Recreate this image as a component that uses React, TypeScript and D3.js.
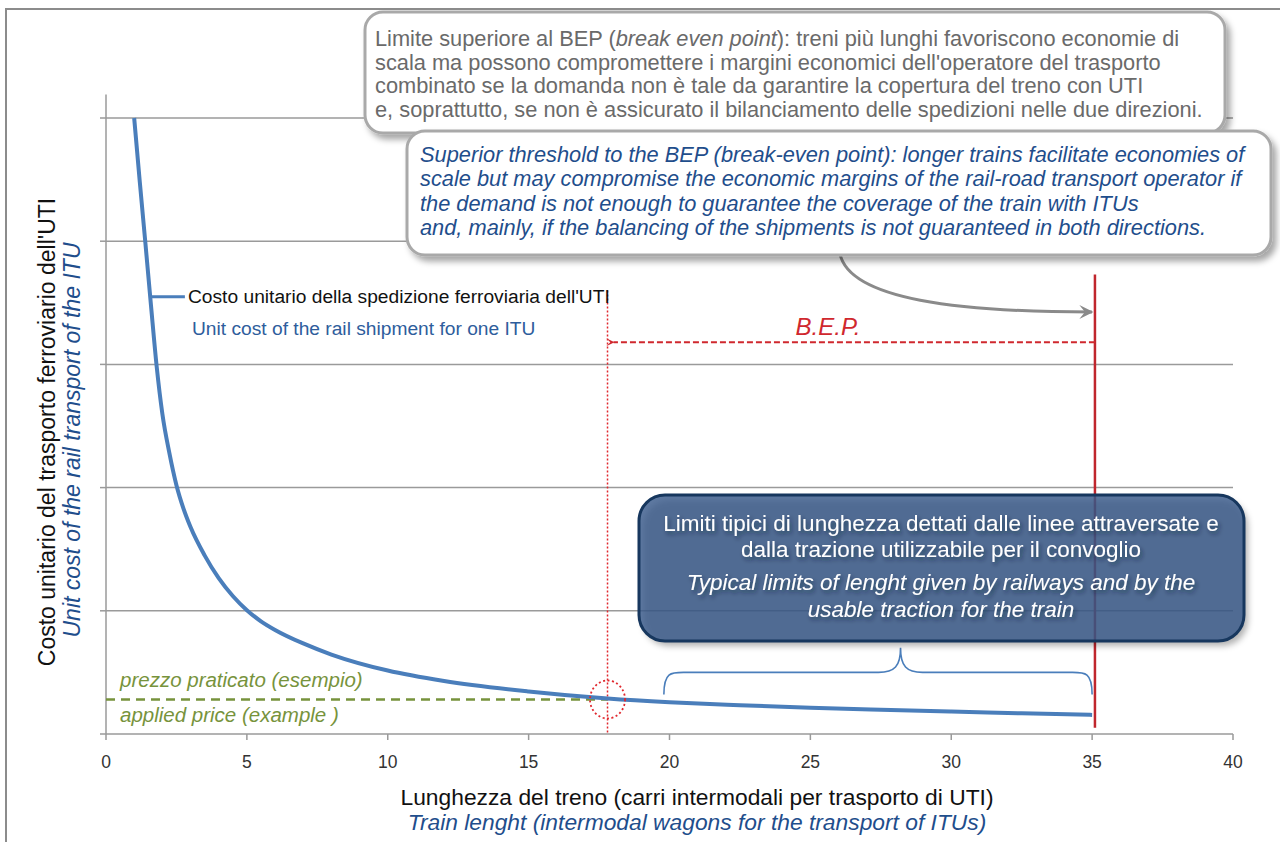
import React from 'react';
import * as d3 from 'd3';

// ---- data ----
const trainLength = [1, 1.2, 1.4, 1.6, 1.8, 2, 2.25, 2.5, 2.75, 3, 3.5, 4, 4.5, 5, 5.5, 6, 7, 8, 10, 12, 15, 17.8, 20, 22.5, 25, 27.5, 30, 32.5, 35];
const unitCost = [5.0, 4.48, 3.98, 3.47, 2.98, 2.6, 2.28, 2.02, 1.83, 1.68, 1.45, 1.265, 1.12, 1.005, 0.915, 0.845, 0.735, 0.645, 0.515, 0.43, 0.345, 0.288, 0.258, 0.234, 0.214, 0.197, 0.182, 0.168, 0.155];
const xTicks = [0, 5, 10, 15, 20, 25, 30, 35, 40];
const yGrid = [0, 1, 2, 3, 4, 5];
const yAxisTop = 5.19;
const appliedPrice = 0.28;
const bepLength = 17.8;
const maxLength = 35.1;
const braceFrom = 19.8;
const braceTo = 35;
const braceMid = 28.2;

const yTitleIt = "Costo unitario del trasporto ferroviario dell'UTI";
const yTitleEn = 'Unit cost  of the rail transport of the ITU';
const xTitleIt = 'Lunghezza del treno (carri intermodali per trasporto di UTI)';
const xTitleEn = 'Train lenght (intermodal wagons for the transport of ITUs)';
const legendIt = "Costo unitario della spedizione ferroviaria dell'UTI";
const legendEn = 'Unit cost of the rail shipment for one ITU';
const priceIt = 'prezzo praticato (esempio)';
const priceEn = 'applied price (example )';
const bepLabel = 'B.E.P.';

const calloutItLines = [
  'scala ma possono compromettere i margini economici dell\'operatore del trasporto',
  'combinato se la domanda non è tale da garantire la copertura del treno con UTI',
  'e, soprattutto, se non è assicurato il bilanciamento delle spedizioni nelle due direzioni.',
];
const calloutEnLines = [
  'Superior threshold to the BEP (break-even point): longer trains facilitate economies of',
  'scale but may compromise the economic margins of the rail-road transport operator if',
  'the demand is not enough to guarantee the coverage of the train with ITUs',
  'and, mainly, if the balancing of the shipments is not guaranteed in both directions.',
];
const boxItLines = [
  'Limiti tipici di lunghezza dettati dalle linee attraversate e',
  'dalla trazione utilizzabile per il convoglio',
];
const boxEnLines = [
  'Typical limits of lenght given by railways and by the',
  'usable traction for the train',
];

const FONT = "'Liberation Sans', Arial, sans-serif";

export default function App() {
  const x = d3.scaleLinear().domain([0, 40]).range([106, 1233]);
  const y = d3.scaleLinear().domain([0, 5]).range([734, 118]);

  const curve = d3
    .line<number>()
    .x((_, i) => x(trainLength[i]))
    .y((d) => y(d))
    .curve(d3.curveMonotoneX)(unitCost) as string;

  const bx = x(bepLength);
  const mx = x(maxLength);
  const py = y(appliedPrice);

  const b0 = x(braceFrom);
  const b1 = x(braceTo);
  const bm = x(braceMid);
  const bBottom = y(0.32);
  const bTop = y(0.5);
  const bPeak = y(0.7);
  const brace = `M${b0},${bBottom} C${b0},${bTop - 2} ${b0 + 8},${bTop} ${b0 + 24},${bTop} L${bm - 22},${bTop} C${bm - 6},${bTop} ${bm},${bTop - 6} ${bm},${bPeak} C${bm},${bTop - 6} ${bm + 6},${bTop} ${bm + 22},${bTop} L${b1 - 24},${bTop} C${b1 - 8},${bTop} ${b1},${bTop - 2} ${b1},${bBottom}`;

  const legendY = y(3.55);
  const bepArrowY = y(3.18);

  return (
    <svg
      width={1280}
      height={842}
      style={{ position: 'absolute', left: 0, top: 0, background: '#fff' }}
      fontFamily={FONT}
    >
      <defs>
        <filter id="shadow" x="-10%" y="-10%" width="130%" height="140%">
          <feDropShadow dx="4" dy="5" stdDeviation="3" floodColor="#000" floodOpacity="0.35" />
        </filter>
        <filter id="tshadow" x="-10%" y="-30%" width="120%" height="180%">
          <feDropShadow dx="2" dy="3" stdDeviation="2" floodColor="#0a1a33" floodOpacity="0.55" />
        </filter>
        <filter id="boxblur" x="-10%" y="-20%" width="120%" height="140%">
          <feGaussianBlur stdDeviation="3" />
        </filter>
        <marker id="redArrow" viewBox="0 0 10 10" refX="1" refY="5" markerWidth="8" markerHeight="8" orient="auto-start-reverse" markerUnits="userSpaceOnUse">
          <path d="M10,0 L0,5 L10,10 L5,5 Z" fill="#d0282e" />
        </marker>
        <marker id="grayArrow" viewBox="0 0 10 10" refX="9" refY="5" markerWidth="14" markerHeight="14" orient="auto" markerUnits="userSpaceOnUse">
          <path d="M0,0 L10,5 L0,10 L4,5 Z" fill="#8a8a8a" />
        </marker>
      </defs>

      {/* frame */}
      <rect x={6} y={9} width={1300} height={900} fill="none" stroke="#8c8c8c" strokeWidth={2} />

      {/* grid */}
      {yGrid.map((g) => (
        <g key={g}>
          <line x1={x(0)} x2={x(40)} y1={y(g)} y2={y(g)} stroke="#9a9a9a" strokeWidth={1.5} />
          <line x1={x(0) - 6} x2={x(0)} y1={y(g)} y2={y(g)} stroke="#9a9a9a" strokeWidth={1.5} />
        </g>
      ))}
      {/* y axis */}
      <line x1={x(0)} x2={x(0)} y1={y(0)} y2={y(yAxisTop)} stroke="#9a9a9a" strokeWidth={1.5} />
      {/* x axis ticks */}
      {xTicks.map((t) => (
        <g key={t}>
          <line x1={x(t)} x2={x(t)} y1={y(0)} y2={y(0) + 6} stroke="#9a9a9a" strokeWidth={1.5} />
          <text x={x(t)} y={y(0) + 34} textAnchor="middle" fontSize={17.5} fill="#333">
            {t}
          </text>
        </g>
      ))}

      {/* axis titles */}
      <text transform="translate(55,432) rotate(-90)" textAnchor="middle" fontSize={23} fill="#111">
        {yTitleIt}
      </text>
      <text transform="translate(80,440) rotate(-90)" textAnchor="middle" fontSize={23} fontStyle="italic" fill="#1f4e8c">
        {yTitleEn}
      </text>
      <text x={697} y={805} textAnchor="middle" fontSize={22.8} fill="#111">
        {xTitleIt}
      </text>
      <text x={697} y={830} textAnchor="middle" fontSize={22.8} fontStyle="italic" fill="#1f4e8c">
        {xTitleEn}
      </text>

      {/* BEP dotted vertical */}
      <line x1={bx} x2={bx} y1={y(3.6)} y2={y(0)} stroke="#e0282e" strokeWidth={1.5} strokeDasharray="2,2" />

      {/* applied price */}
      <line x1={x(0)} x2={bx} y1={py} y2={py} stroke="#77933c" strokeWidth={2.5} strokeDasharray="9,6" />
      <text x={120} y={687} fontSize={20.5} fontStyle="italic" fill="#77933c">{priceIt}</text>
      <text x={120} y={722} fontSize={20.5} fontStyle="italic" fill="#77933c">{priceEn}</text>

      {/* curve */}
      <path d={curve} fill="none" stroke="#4a7ebb" strokeWidth={4} />

      {/* legend connector */}
      <line x1={x(1.56)} x2={x(2.8)} y1={legendY} y2={legendY} stroke="#4a7ebb" strokeWidth={3} />
      <text x={188} y={303} fontSize={19.2} fill="#111">{legendIt}</text>
      <text x={192} y={335} fontSize={19.2} fill="#2e5d9c">{legendEn}</text>

      {/* BEP circle */}
      <ellipse cx={bx} cy={py} rx={17.5} ry={19} fill="none" stroke="#e0282e" strokeWidth={1.8} strokeDasharray="2,2.5" />

      {/* brace */}
      <path d={brace} fill="none" stroke="#4a7ebb" strokeWidth={1.6} />

      {/* max length line */}
      <line x1={mx} x2={mx} y1={y(3.73)} y2={y(0.05)} stroke="#c0262d" strokeWidth={2.5} />

      {/* BEP arrow */}
      <line x1={mx} x2={bx + 6} y1={bepArrowY} y2={bepArrowY} stroke="#d0282e" strokeWidth={2} strokeDasharray="6,3" markerEnd="url(#redArrow)" />
      <text x={828} y={335} textAnchor="middle" fontSize={24} fontStyle="italic" fill="#d0282e">{bepLabel}</text>

      {/* gray curved arrow */}
      <path d={`M840,254 C850,300 960,312 ${mx - 3},312`} fill="none" stroke="#8a8a8a" strokeWidth={3} markerEnd="url(#grayArrow)" />

      {/* callout 1 */}
      <g filter="url(#shadow)">
        <rect x={365} y={12} width={860} height={121} rx={18} fill="#fff" stroke="#a9a9a9" strokeWidth={3} />
      </g>
      <g fontSize={21.8} fill="#6a6a6a">
        <text x={375} y={46}>
          Limite superiore al BEP (<tspan fontStyle="italic">break even point</tspan>): treni più lunghi favoriscono economie di
        </text>
        {calloutItLines.map((l, i) => (
          <text key={i} x={375} y={69.5 + i * 23.5}>{l}</text>
        ))}
      </g>

      {/* callout 2 */}
      <g filter="url(#shadow)">
        <rect x={407} y={131} width={864} height={124} rx={18} fill="#fff" stroke="#a9a9a9" strokeWidth={3} />
      </g>
      <g fontSize={21.8} fill="#1f4e8c" fontStyle="italic">
        {calloutEnLines.map((l, i) => (
          <text key={i} x={420} y={162 + i * 24.3}>{l}</text>
        ))}
      </g>

      {/* blue box */}
      <rect x={643} y={500} width={605} height={146} rx={26} fill="#000" fillOpacity={0.3} filter="url(#boxblur)" />
      <rect x={639} y={495} width={605} height={146} rx={26} fill="#3a5b8c" fillOpacity={0.82} stroke="#17375e" strokeWidth={3} />
      <g fontSize={22.5} fill="#fff" textAnchor="middle" filter="url(#tshadow)">
        {boxItLines.map((l, i) => (
          <text key={i} x={941} y={531 + i * 26}>{l}</text>
        ))}
        {boxEnLines.map((l, i) => (
          <text key={'e' + i} x={941} y={590 + i * 27} fontStyle="italic">{l}</text>
        ))}
      </g>
    </svg>
  );
}
